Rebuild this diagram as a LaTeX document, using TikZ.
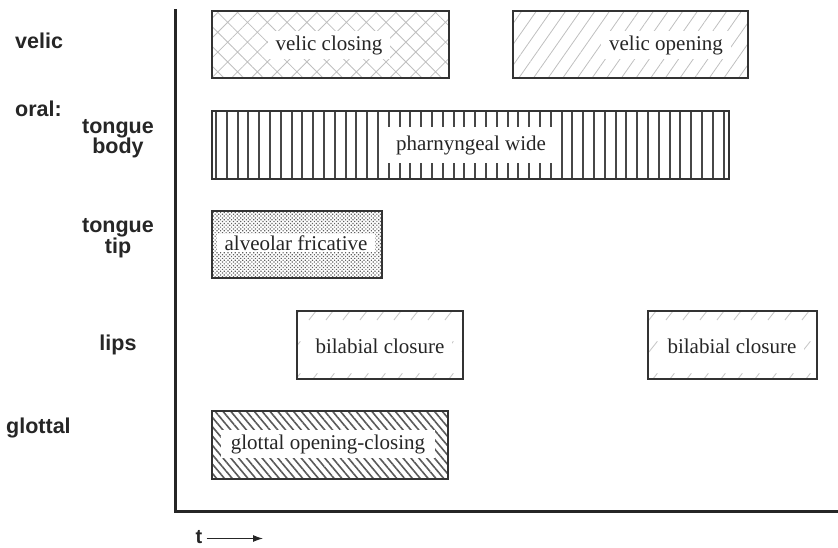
\documentclass[tikz,border=0pt]{standalone}
\usepackage{fontspec}
\setmainfont{Liberation Serif}
\newfontfamily\labfont{Liberation Sans}
\usetikzlibrary{patterns,patterns.meta,arrows.meta}
\pgfdeclarepattern{
  name=dashhatch,
  type=uncolored,
  bottom left={\pgfpoint{0pt}{0pt}},
  top right={\pgfpoint{17pt}{32pt}},
  tile size={\pgfpoint{17pt}{32pt}},
  code={
    \pgfsetlinewidth{0.9pt}
    \pgfpathmoveto{\pgfpoint{3pt}{4pt}}
    \pgfpathlineto{\pgfpoint{12pt}{15pt}}
    \pgfusepath{stroke}
  }
}
\begin{document}
\begin{tikzpicture}[x=1pt,y=-1pt,
  box/.style={draw=black!80, line width=1.3pt, inner sep=0pt},
  lbl/.style={fill=white, text=black!85, inner xsep=8pt, inner ysep=4pt, font=\fontsize{21}{22}\selectfont},
  side/.style={font=\labfont\bfseries\fontsize{21.5}{20}\selectfont, align=center, inner sep=0pt, text=black!85},
  axis/.style={line width=3pt, black!85}]
\useasboundingbox (0,0) rectangle (838,547);

% boxes
\node[box, pattern={Hatch[angle=45, distance=14pt, line width=0.8pt]}, pattern color=black!25,
      minimum width=237pt, minimum height=67pt] (vc) at (330.5,44.5) {};
\node[box, pattern={Lines[angle=55, distance=12pt, line width=0.8pt]}, pattern color=black!25,
      minimum width=235pt, minimum height=67pt] (vo) at (630.5,44.5) {};
\node[box, pattern={Lines[angle=90, distance=10.8pt, line width=2pt]}, pattern color=black!72,
      minimum width=517pt, minimum height=68pt] (pw) at (470.5,145) {};
\node[box, pattern={Dots[distance=2.6pt, radius=0.85pt, angle=45]}, pattern color=black!62,
      minimum width=170pt, minimum height=67pt] (af) at (297,244.5) {};
\node[box, pattern=dashhatch, pattern color=black!22,
      minimum width=166pt, minimum height=68pt] (bc1) at (380,345) {};
\node[box, pattern=dashhatch, pattern color=black!22,
      minimum width=169pt, minimum height=68pt] (bc2) at (732.5,345) {};
\node[box, pattern={Lines[angle=-50, distance=6pt, line width=1.6pt]}, pattern color=black!65,
      minimum width=236pt, minimum height=68pt] (gl) at (330,445) {};

% labels in boxes
\node[lbl] (vcl) at (329,45) {velic closing};
\node[lbl] (vol) at (666,45) {velic opening};
\node[lbl, inner xsep=10pt, inner ysep=8pt] (pwl) at (471,145) {pharnyngeal wide};
\node[lbl, inner ysep=1.5pt] (afl) at (296,243) {alveolar fricative};
\node[lbl] (bc1l) at (380,346) {bilabial closure};
\node[lbl] (bc2l) at (732,346) {bilabial closure};
\node[lbl, inner xsep=10pt] (gll) at (328,444) {glottal opening-closing};

% side labels
\node[side, anchor=base west] (svel) at (15,48) {velic};
\node[side, anchor=base west] (soral) at (15,116.5) {oral:};
\node[side, anchor=base] (stb1) at (118,133) {tongue};
\node[side, anchor=base] (stb2) at (118,153) {body};
\node[side, anchor=base] (stt1) at (118,232) {tongue};
\node[side, anchor=base] (stt2) at (118,253) {tip};
\node[side, anchor=base] (slips) at (118,350) {lips};
\node[side, anchor=base west] (sglot) at (6,433) {glottal};

% axes
\coordinate (atop) at (175,9);
\coordinate (acorner) at (175,511);
\coordinate (aright) at (838,511);
\draw[axis] (atop) -- (acorner) -- (aright);

% time arrow
\node[side, anchor=base west, font=\labfont\bfseries\fontsize{20}{20}\selectfont] (tl) at (195.5,543) {t};
\coordinate (tend) at (263,538.5);
\draw[line width=1.1pt, black!85, -{Latex[length=10pt, width=7pt]}] (tl.east |- tend) ++(4,0) -- (tend);
\end{tikzpicture}
\end{document}
